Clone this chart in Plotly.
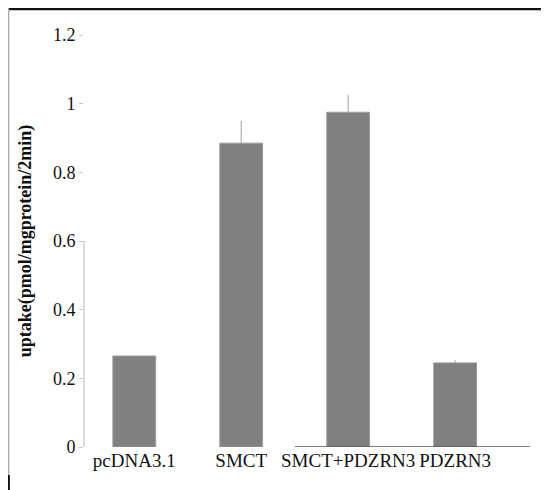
import plotly.graph_objects as go

categories = ["pcDNA3.1", "SMCT", "SMCT+PDZRN3", "PDZRN3"]
values = [0.265, 0.885, 0.975, 0.245]
errors = [0.0, 0.065, 0.05, 0.008]
yticks = [0, 0.2, 0.4, 0.6, 0.8, 1, 1.2]
ytick_labels = ["0", "0.2", "0.4", "0.6", "0.8", "1", "1.2"]

serif = "Liberation Serif"

fig = go.Figure()
fig.add_trace(go.Bar(
    x=list(range(len(categories))),
    y=values,
    width=0.4,
    marker=dict(color="#808080", line=dict(color="#9a9a9a", width=1)),
    error_y=dict(type="data", array=errors, symmetric=False, color="#b0b0b0",
                 thickness=1.2, width=0, visible=True),
    showlegend=False,
))

fig.update_layout(
    width=549, height=490,
    margin=dict(l=76, r=27, t=27, b=51),
    paper_bgcolor="white", plot_bgcolor="white",
    font=dict(family=serif, color="#111111", size=18),
    xaxis=dict(
        range=[-0.47, 3.7],
        tickmode="array",
        tickvals=list(range(len(categories))),
        ticktext=categories,
        showgrid=False, zeroline=False, showline=False, ticks="",
        tickfont=dict(family=serif, size=19, color="#111111"),
    ),
    yaxis=dict(
        range=[0, 1.2],
        tickmode="array",
        tickvals=yticks,
        ticktext=ytick_labels,
        showgrid=False, zeroline=False, showline=False,
        ticks="outside", ticklen=4, tickcolor="#c8c8c8",
        tickfont=dict(family=serif, size=18, color="#111111"),
        title=dict(text="<b>uptake(pmol/mgprotein/2min)</b>",
                   font=dict(family=serif, size=18, color="#111111"),
                   standoff=16),
    ),
    shapes=[
        # partial y axis line
        dict(type="line", xref="paper", yref="y", x0=0, x1=0, y0=0, y1=0.6,
             line=dict(color="#cfcfcf", width=1.5)),
        # baseline under right bars
        dict(type="line", xref="x", yref="y", x0=1.5, x1=3.75, y0=0, y1=0,
             line=dict(color="#555555", width=1.5)),
        # frame: top and left
        dict(type="line", xref="paper", yref="paper", x0=-0.169, x1=1.1,
             y0=1.063, y1=1.063, line=dict(color="#111111", width=2.5)),
        dict(type="line", xref="paper", yref="paper", x0=-0.169, x1=-0.169,
             y0=1.063, y1=-0.068, line=dict(color="#aaaaaa", width=1.5)),
        dict(type="line", xref="paper", yref="paper", x0=-0.169, x1=-0.169,
             y0=-0.068, y1=-0.11, line=dict(color="#111111", width=2.5)),
    ],
)

fig.write_html("out.html")
